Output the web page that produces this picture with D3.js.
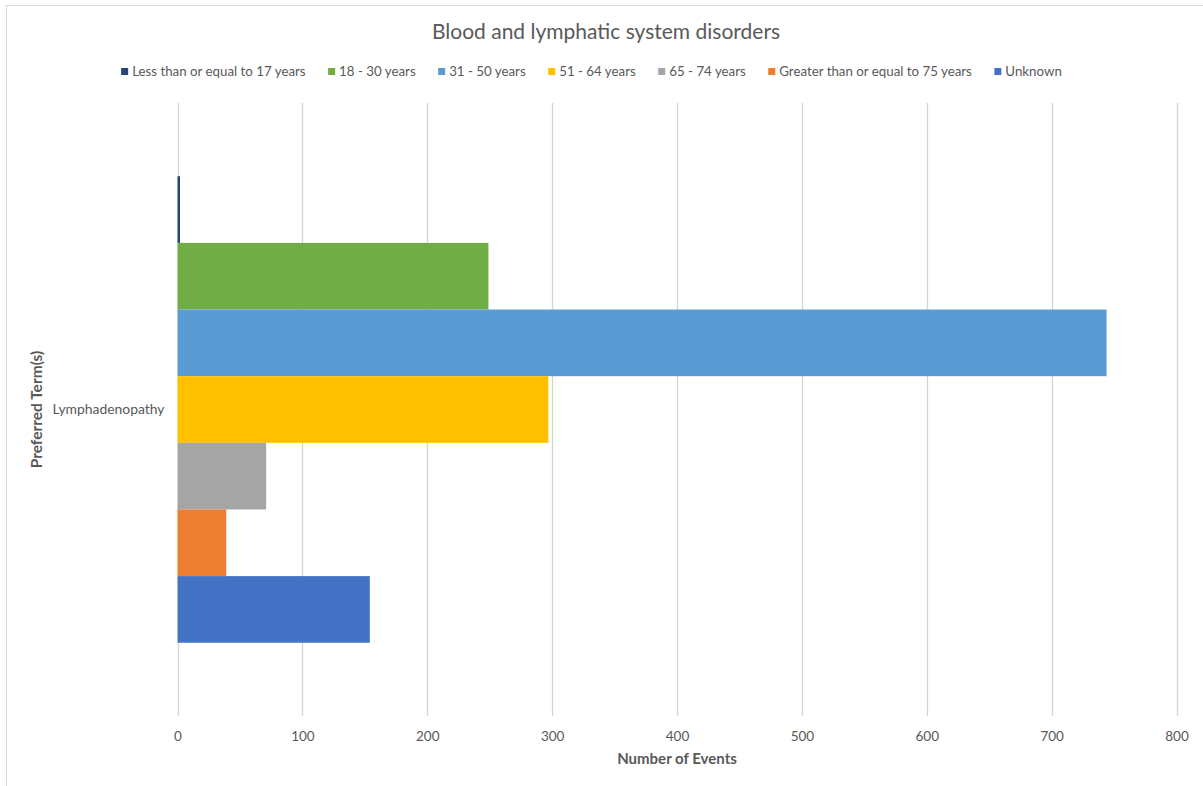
<!DOCTYPE html>
<html>
<head>
<meta charset="utf-8">
<script src="https://cdn.jsdelivr.net/npm/d3@7"></script>
<style>
  html, body { margin: 0; padding: 0; background: #fff; }
  svg { display: block; }
  text { font-family: Lato, "Open Sans", sans-serif; fill: #595959; }
</style>
</head>
<body>
<svg id="chart" width="1203" height="786"></svg>
<script>
// ---- data ----
const categories = ["Lymphadenopathy"];
const seriesNames = [
  "Less than or equal to 17 years",
  "18 - 30 years",
  "31 - 50 years",
  "51 - 64 years",
  "65 - 74 years",
  "Greater than or equal to 75 years",
  "Unknown"
];
const seriesValues = [2, 249, 744, 297, 71, 39, 154];
const seriesColors = ["#264478", "#70AD47", "#5B9BD5", "#FFC000", "#A5A5A5", "#ED7D31", "#4472C4"];
const xTicks = [0, 100, 200, 300, 400, 500, 600, 700, 800];
const chartTitle = "Blood and lymphatic system disorders";
const xAxisTitle = "Number of Events";
const yAxisTitle = "Preferred Term(s)";

// ---- layout ----
const W = 1203, H = 786;
const plot = { left: 177.5, right: 1176.5, top: 103, bottom: 716 };
const svg = d3.select("#chart");

// outer border
svg.append("rect")
  .attr("x", 6.5).attr("y", 5.5)
  .attr("width", W).attr("height", H)
  .attr("fill", "#fff").attr("stroke", "#d9d9d9").attr("stroke-width", 1);

const x = d3.scaleLinear().domain([0, 800]).range([plot.left, plot.right]);
const y = d3.scaleBand().domain(categories).range([plot.top, plot.bottom])
  .paddingInner(0).paddingOuter(0.157);
const ySeries = d3.scaleBand().domain(seriesNames).range([0, y.bandwidth()]).padding(0);

// gridlines
svg.append("g").selectAll("line").data(xTicks).join("line")
  .attr("x1", d => Math.round(x(d)) + 0.5).attr("x2", d => Math.round(x(d)) + 0.5)
  .attr("y1", plot.top).attr("y2", plot.bottom)
  .attr("stroke", "#d4d4d4").attr("stroke-width", 1.3);

// x axis tick labels
const xAxis = d3.axisBottom(x).tickValues(xTicks).tickSize(0).tickPadding(0);
const gx = svg.append("g").attr("transform", `translate(0,${plot.bottom})`).call(xAxis);
gx.select(".domain").remove();
gx.selectAll("text")
  .attr("y", 25).attr("dy", 0)
  .style("font-size", "13.5px").style("fill", "#595959")
  .style("font-family", "Lato, sans-serif");

// bars
const rows = categories.map((c, ci) => seriesNames.map((s, si) => ({ cat: c, series: s, value: seriesValues[si], color: seriesColors[si] })));
svg.append("g").selectAll("g").data(rows).join("g")
  .attr("transform", (r, i) => `translate(0,${y(categories[i])})`)
  .selectAll("rect").data(r => r).join("rect")
  .attr("x", x(0))
  .attr("y", d => ySeries(d.series))
  .attr("width", d => x(d.value) - x(0))
  .attr("height", ySeries.bandwidth())
  .attr("fill", d => d.color);

// y axis category label
const yAxis = d3.axisLeft(y).tickSize(0).tickPadding(13);
const gy = svg.append("g").attr("transform", `translate(${plot.left},0)`).call(yAxis);
gy.select(".domain").remove();
gy.selectAll("text")
  .style("font-size", "13.9px").style("fill", "#595959")
  .style("font-family", "Lato, sans-serif");

// title
svg.append("text")
  .attr("x", 606).attr("y", 39)
  .attr("text-anchor", "middle")
  .style("font-size", "21px")
  .text(chartTitle);

// axis titles
svg.append("text")
  .attr("x", (plot.left + plot.right) / 2).attr("y", 764)
  .attr("text-anchor", "middle")
  .style("font-size", "15px").style("font-weight", "bold")
  .text(xAxisTitle);

svg.append("text")
  .attr("transform", `translate(42,${(plot.top + plot.bottom) / 2}) rotate(-90)`)
  .attr("text-anchor", "middle")
  .style("font-size", "15.5px").style("font-weight", "bold")
  .text(yAxisTitle);

// legend
const legend = svg.append("g");
const items = legend.selectAll("g").data(seriesNames).join("g");
items.append("rect")
  .attr("width", 7).attr("height", 7).attr("y", -3.5)
  .attr("fill", (d, i) => seriesColors[i]);
items.append("text")
  .attr("x", 11).attr("dy", "0.35em")
  .style("font-size", "13.3px")
  .text(d => d);
let cx = 0;
const gap = 22.5;
items.each(function () {
  const g = d3.select(this);
  const w = 11 + g.select("text").node().getComputedTextLength();
  g.attr("transform", `translate(${cx},0)`);
  cx += w + gap;
});
const totalW = cx - gap;
legend.attr("transform", `translate(${(121 + 1062) / 2 - totalW / 2},71.5)`);
</script>
</body>
</html>
